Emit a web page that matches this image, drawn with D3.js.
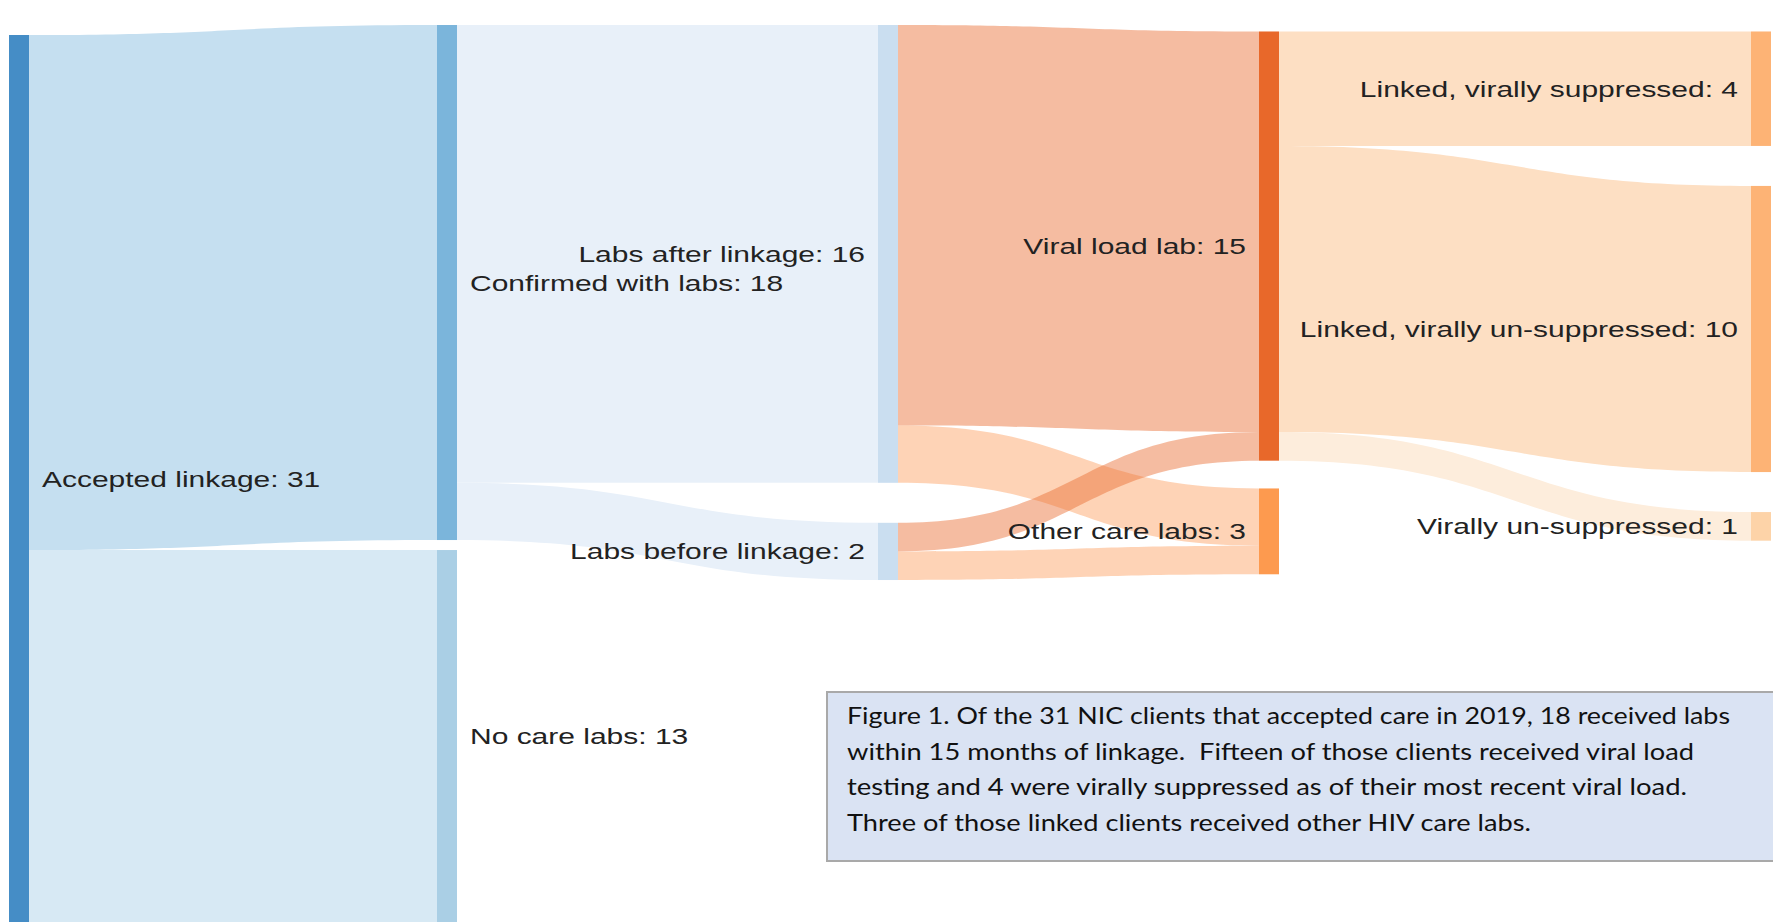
<!DOCTYPE html>
<html>
<head>
<meta charset="utf-8">
<script src="https://cdn.jsdelivr.net/npm/d3@7"></script>
<style>
  body { margin: 0; background: #fff; }
  svg { display: block; }
</style>
</head>
<body>
<div id="chart"></div>
<script>
// Nodes of the flow, in the order they are stacked in each column
const nodeNames = [
    "Accepted linkage",
    "Confirmed with labs",
    "No care labs",
    "Labs after linkage",
    "Labs before linkage",
    "Viral load lab",
    "Other care labs",
    "Linked, virally suppressed",
    "Linked, virally un-suppressed",
    "Virally un-suppressed"
];

// Links: source index, target index, number of clients
const linkSources = [0, 0, 1, 1, 3, 3, 4, 4, 5, 5, 5];
const linkTargets = [1, 2, 3, 4, 5, 6, 5, 6, 7, 8, 9];
const linkValues  = [18, 13, 16, 2, 14, 2, 1, 1, 4, 10, 1];

const captionLines = [
    "Figure 1. Of the 31 NIC clients that accepted care in 2019, 18 received labs",
    "within 15 months of linkage.  Fifteen of those clients received viral load",
    "testing and 4 were virally suppressed as of their most recent viral load.",
    "Three of those linked clients received other HIV care labs."
];

// Colours
const nodeColors = ["#458dc6", "#7bb5db", "#aacfe5", "#cadef0", "#cadef0",
                    "#e8682a", "#fd9a4f", "#fdb375", "#fdb375", "#fdd3a8"];
const linkColors = ["#c5dff0", "#d7e9f4", "#e8f0f9", "#e8f0f9",
                    "rgba(234,110,50,0.46)", "rgba(252,150,80,0.42)",
                    "rgba(234,110,50,0.46)", "rgba(252,150,80,0.42)",
                    "#fddfc3", "#fddfc3", "#fdeddc"];

const width = 1773, height = 922;

// column positions of the nodes (left edge)
const colX = d3.scaleLinear()
    .domain([0, 1, 2, 3, 4])
    .range([9, 437, 878, 1259, 1751]);

// Small sankey layout: every node sits so its incoming links run as level
// as possible (links leaving one node are fanned out by linkSpread), then
// nodes in a column are pushed apart by the padding.
function sankeyLayout(nodes, links, o) {
    const py = o.nodePadding;

    nodes.forEach((n, i) => { n.index = i; n.sourceLinks = []; n.targetLinks = []; });
    links.forEach((l, i) => {
        l.index = i;
        l.source = nodes[l.source];
        l.target = nodes[l.target];
        l.source.sourceLinks.push(l);
        l.target.targetLinks.push(l);
    });
    nodes.forEach(n => {
        n.value = Math.max(d3.sum(n.sourceLinks, l => l.value), d3.sum(n.targetLinks, l => l.value));
    });

    // depth of each node
    let current = new Set(nodes), next = new Set(), x = 0;
    while (current.size) {
        for (const n of current) {
            n.depth = x;
            for (const l of n.sourceLinks) next.add(l.target);
        }
        current = next;
        next = new Set();
        x++;
    }
    const columns = d3.groups(nodes, n => n.depth)
        .sort((a, b) => a[0] - b[0])
        .map(g => g[1]);
    nodes.forEach(n => { n.x0 = o.colX(n.depth); n.x1 = n.x0 + o.nodeWidth; });

    // one value scale for every node and link
    const ky = d3.min(columns, c => (o.y1 - o.y0 - (c.length - 1) * py) / d3.sum(c, n => n.value));
    const size = d3.scaleLinear().domain([0, 1]).range([0, ky]);
    links.forEach(l => { l.width = size(l.value); });

    for (const col of columns) {
        for (const n of col) {
            const h = size(n.value);
            if (!n.targetLinks.length) {
                // sources rest on the bottom edge
                n.y0 = o.y1 - h;
            } else {
                n.targetLinks.sort((a, b) => a.source.y0 - b.source.y0 || a.index - b.index);
                let y = 0, w = 0;
                for (const l of n.targetLinks) {
                    let top = l.source.y0;
                    for (const s of l.source.sourceLinks) {
                        if (s === l) break;
                        top += s.width + o.linkSpread;
                    }
                    for (const t of n.targetLinks) { if (t === l) break; top -= t.width; }
                    y += top * l.value;
                    w += l.value;
                }
                n.y0 = y / w;
            }
            n.y1 = n.y0 + h;
        }
        // push overlapping nodes down, then back up from the bottom edge
        let y = o.y0;
        for (const n of col) {
            const dy = y - n.y0;
            if (dy > 0) { n.y0 += dy; n.y1 += dy; }
            y = n.y1 + py;
        }
        y = o.y1;
        for (const n of col.slice().reverse()) {
            const dy = n.y1 - y;
            if (dy > 0) { n.y0 -= dy; n.y1 -= dy; }
            y = n.y0 - py;
        }
    }

    // link positions at both ends
    for (const n of nodes) {
        n.sourceLinks.sort((a, b) => a.target.y0 - b.target.y0 || a.index - b.index);
        n.targetLinks.sort((a, b) => a.source.y0 - b.source.y0 || a.index - b.index);
    }
    for (const n of nodes) {
        let ys = n.y0, yt = n.y0;
        for (const l of n.sourceLinks) { l.y0 = ys + l.width / 2; ys += l.width; }
        for (const l of n.targetLinks) { l.y1 = yt + l.width / 2; yt += l.width; }
    }
    return { nodes, links };
}

const graph = sankeyLayout(
    nodeNames.map((name, i) => ({ name, color: nodeColors[i] })),
    linkValues.map((value, i) => ({
        source: linkSources[i], target: linkTargets[i], value, color: linkColors[i]
    })),
    { y0: 25, y1: 922, nodePadding: 10, linkSpread: 40, nodeWidth: 20, colX }
);

// filled band between two nodes
function bandPath(l) {
    const xs = l.source.x1, xt = l.target.x0, xm = (xs + xt) / 2;
    const h = l.width / 2;
    const p = d3.path();
    p.moveTo(xs, l.y0 - h);
    p.bezierCurveTo(xm, l.y0 - h, xm, l.y1 - h, xt, l.y1 - h);
    p.lineTo(xt, l.y1 + h);
    p.bezierCurveTo(xm, l.y1 + h, xm, l.y0 + h, xs, l.y0 + h);
    p.closePath();
    return p.toString();
}

const svg = d3.select("#chart")
    .append("svg")
    .attr("width", width)
    .attr("height", height);

// Links
svg.append("g")
    .selectAll("path")
    .data(graph.links)
    .join("path")
    .attr("d", bandPath)
    .attr("fill", d => d.color);

// Nodes
svg.append("g")
    .selectAll("rect")
    .data(graph.nodes)
    .join("rect")
    .attr("x", d => d.x0)
    .attr("y", d => d.y0)
    .attr("width", d => d.x1 - d.x0)
    .attr("height", d => d.y1 - d.y0)
    .attr("fill", d => d.color);

// Node labels (the original picture is stretched sideways)
const labelLeft = d => d.depth >= 2;
svg.append("g")
    .selectAll("text")
    .data(graph.nodes)
    .join("text")
    .attr("transform", d => {
        const x = labelLeft(d) ? d.x0 - 13 : d.x1 + 13;
        return `translate(${x},${(d.y0 + d.y1) / 2}) scale(1.345,1)`;
    })
    .attr("dy", "0.36em")
    .attr("text-anchor", d => labelLeft(d) ? "end" : "start")
    .style("font-family", "'Liberation Sans', Arial, sans-serif")
    .style("font-size", "22.3px")
    .style("fill", "#222")
    .text(d => `${d.name}: ${d.value}`);

// Caption box
const caption = svg.append("g");
caption.append("rect")
    .attr("x", 827)
    .attr("y", 692)
    .attr("width", 980)
    .attr("height", 169)
    .attr("fill", "#dae3f3")
    .attr("stroke", "#a9a9a9")
    .attr("stroke-width", 2);

const captionWidths = [883, 847, 840, 684];
caption.selectAll("text")
    .data(captionLines)
    .join("text")
    .attr("x", 847)
    .attr("y", (d, i) => 724 + i * 35.5)
    .attr("textLength", (d, i) => captionWidths[i])
    .attr("lengthAdjust", "spacingAndGlyphs")
    .style("white-space", "pre")
    .style("font-family", "Lato, 'Open Sans', sans-serif")
    .style("font-size", "24px")
    .style("fill", "#111")
    .text(d => d);
</script>
</body>
</html>
